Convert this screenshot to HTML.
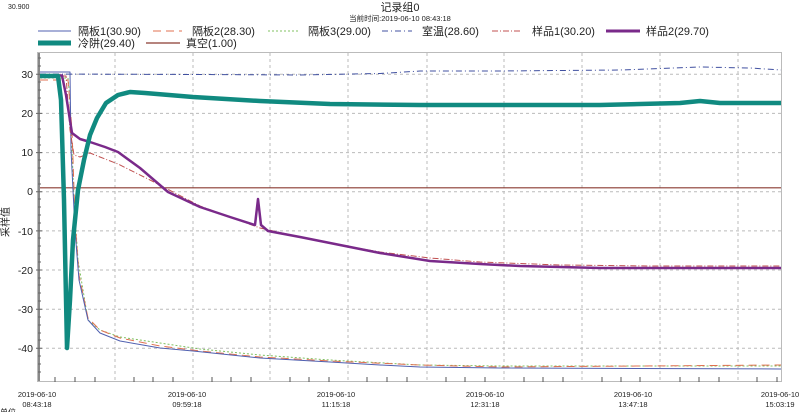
<!DOCTYPE html>
<html><head><meta charset="utf-8"><style>
html,body{margin:0;padding:0;background:#fff;width:800px;height:412px;overflow:hidden}
svg{display:block}
text{font-family:"Liberation Sans","Noto Sans CJK SC",sans-serif;fill:#222}
</style></head><body>
<svg width="800" height="412" viewBox="0 0 800 412" xmlns="http://www.w3.org/2000/svg">
<text x="8" y="9" font-size="7">30.900</text>
<text x="400" y="11" font-size="11" text-anchor="middle">记录组0</text>
<text x="400" y="21" font-size="7.5" text-anchor="middle">当前时间:2019-06-10  08:43:18</text>
<g font-size="11">
<line x1="38" y1="31" x2="71" y2="31" stroke="#5060b0" stroke-width="1"/><text x="78" y="35">隔板1(30.90)</text>
<line x1="153" y1="31" x2="182" y2="31" stroke="#e07050" stroke-width="1" stroke-dasharray="8,5"/><text x="192" y="35">隔板2(28.30)</text>
<line x1="268" y1="31" x2="298" y2="31" stroke="#80c060" stroke-width="1" stroke-dasharray="2,2"/><text x="308" y="35">隔板3(29.00)</text>
<line x1="382" y1="31" x2="412" y2="31" stroke="#4050a0" stroke-width="1" stroke-dasharray="6,3,1,3"/><text x="422" y="35">室温(28.60)</text>
<line x1="492" y1="31" x2="522" y2="31" stroke="#c05050" stroke-width="1" stroke-dasharray="6,2,1,2"/><text x="532" y="35">样品1(30.20)</text>
<line x1="606" y1="31" x2="640" y2="31" stroke="#7a2a8a" stroke-width="3"/><text x="646" y="35">样品2(29.70)</text>
<line x1="38" y1="43" x2="71" y2="43" stroke="#108a80" stroke-width="5"/><text x="78" y="47">冷阱(29.40)</text>
<line x1="146" y1="43" x2="180" y2="43" stroke="#8a3a30" stroke-width="1.2"/><text x="186" y="47">真空(1.00)</text>
</g>
<rect x="37.5" y="52.5" width="744" height="329" fill="none" stroke="#bbb"/>
<g stroke="#bbb" stroke-dasharray="3,3" stroke-width="1">
<line x1="40" y1="74.3" x2="781" y2="74.3"/><line x1="40" y1="113.4" x2="781" y2="113.4"/>
<line x1="40" y1="152.6" x2="781" y2="152.6"/><line x1="40" y1="191.7" x2="781" y2="191.7"/>
<line x1="40" y1="230.9" x2="781" y2="230.9"/><line x1="40" y1="270" x2="781" y2="270"/>
<line x1="40" y1="309.2" x2="781" y2="309.2"/><line x1="40" y1="348.3" x2="781" y2="348.3"/>
<line x1="115" y1="53" x2="115" y2="381"/><line x1="193" y1="53" x2="193" y2="381"/>
<line x1="270" y1="53" x2="270" y2="381"/><line x1="348" y1="53" x2="348" y2="381"/>
<line x1="427" y1="53" x2="427" y2="381"/><line x1="504" y1="53" x2="504" y2="381"/>
<line x1="582" y1="53" x2="582" y2="381"/><line x1="660" y1="53" x2="660" y2="381"/>
<line x1="738" y1="53" x2="738" y2="381"/>
</g>
<line x1="39" y1="53" x2="39" y2="381" stroke="#888" stroke-width="2"/>
<g stroke="#666" stroke-width="1">
<path d="M36 74.3h6M36 113.4h6M36 152.6h6M36 191.7h6M36 230.9h6M36 270h6M36 309.2h6M36 348.3h6"/>
<path d="M38 58h3M38 66h3M38 82h3M38 90h3M38 98h3M38 105h3M38 121h3M38 129h3M38 137h3M38 145h3M38 160h3M38 168h3M38 176h3M38 184h3M38 199h3M38 207h3M38 215h3M38 223h3M38 238h3M38 246h3M38 254h3M38 262h3M38 278h3M38 285h3M38 293h3M38 301h3M38 317h3M38 325h3M38 333h3M38 340h3M38 356h3M38 364h3M38 372h3"/>
</g>
<g font-size="10.5" text-anchor="end">
<text x="33" y="78">30</text><text x="33" y="117">20</text><text x="33" y="156">10</text><text x="33" y="195">0</text>
<text x="33" y="235">-10</text><text x="33" y="274">-20</text><text x="33" y="313">-30</text><text x="33" y="352">-40</text>
</g>
<text font-size="10" transform="translate(9,222) rotate(-90)" text-anchor="middle">采样值</text>
<g stroke="#555" stroke-width="1">
<path d="M55 377v5M75 377v5M95 377v5M134 377v5M153 377v5M173 377v5M212 377v5M231 377v5M251 377v5M290 377v5M309 377v5M329 377v5M367 377v5M387 377v5M407 377v5M446 377v5M465 377v5M485 377v5M524 377v5M543 377v5M563 377v5M602 377v5M621 377v5M640 377v5M680 377v5M699 377v5M719 377v5M757 377v5M777 377v5"/>
</g>
<g font-size="7.5" text-anchor="middle">
<text x="37" y="397">2019-06-10</text><text x="37" y="407">08:43:18</text>
<text x="187" y="397">2019-06-10</text><text x="187" y="407">09:59:18</text>
<text x="336" y="397">2019-06-10</text><text x="336" y="407">11:15:18</text>
<text x="485" y="397">2019-06-10</text><text x="485" y="407">12:31:18</text>
<text x="633" y="397">2019-06-10</text><text x="633" y="407">13:47:18</text>
<text x="780" y="397">2019-06-10</text><text x="780" y="407">15:03:19</text>
</g>
<text x="0" y="415" font-size="8">单位</text>
<g fill="none" stroke-linejoin="round">
<polyline stroke="#8a3a30" stroke-width="1.2" points="40,187.8 781,187.8"/>
<polyline stroke="#4050a0" stroke-width="1" stroke-dasharray="6,3,1,3" points="40,74 200,74.5 300,75 380,73.5 420,71 500,71 560,70.5 620,70 700,67 750,68 781,70"/>
<polyline stroke="#80c060" stroke-width="1" stroke-dasharray="2,2" points="40,78 68,78 70,100 74,200 78,260 88,320 100,330 120,337 160,343 200,349 260,355 330,360 420,365 500,366 781,366"/>
<polyline stroke="#e07050" stroke-width="1" stroke-dasharray="8,5" points="40,80 68,80 72,130 75,220 79,275 88,318 100,330 120,338 160,346 200,351 260,357 330,361 420,365 500,367 781,365"/>
<polyline stroke="#5060b0" stroke-width="1" points="40,72 70,72 71,150 75,230 79,280 88,320 100,333 120,341 160,348 193,351 260,358 330,362 380,365 420,367 500,368 781,369"/>
<polyline stroke="#c05050" stroke-width="1" stroke-dasharray="6,2,1,2" points="40,76 66,76 70,130 74,155 80,157 90,153 100,157 118,164 150,180 200,206 260,228 300,237 340,245 380,252 430,258 480,262 560,265 650,266 781,266"/>
<polyline stroke="#7a2a8a" stroke-width="2.5" points="40,75.5 62,75.5 66,95 72,133 80,139 90,142 105,147 118,152 140,168 168,192 200,207 230,217 255,225 258,199 261,225 268,231 300,237 340,245 380,253 430,261 480,264 520,266 560,267 600,268 650,268 700,268 781,268"/>
<polyline stroke="#108a80" stroke-width="4.5" points="40,76 58,76 61,100 64,200 67,348 70,300 73,240 78,190 84,160 90,135 97,118 106,103 118,95 130,92 145,93 193,97 260,101 330,104 420,105 500,105 600,105 680,103 700,101 720,103 781,103"/>
</g>
</svg>
</body></html>
